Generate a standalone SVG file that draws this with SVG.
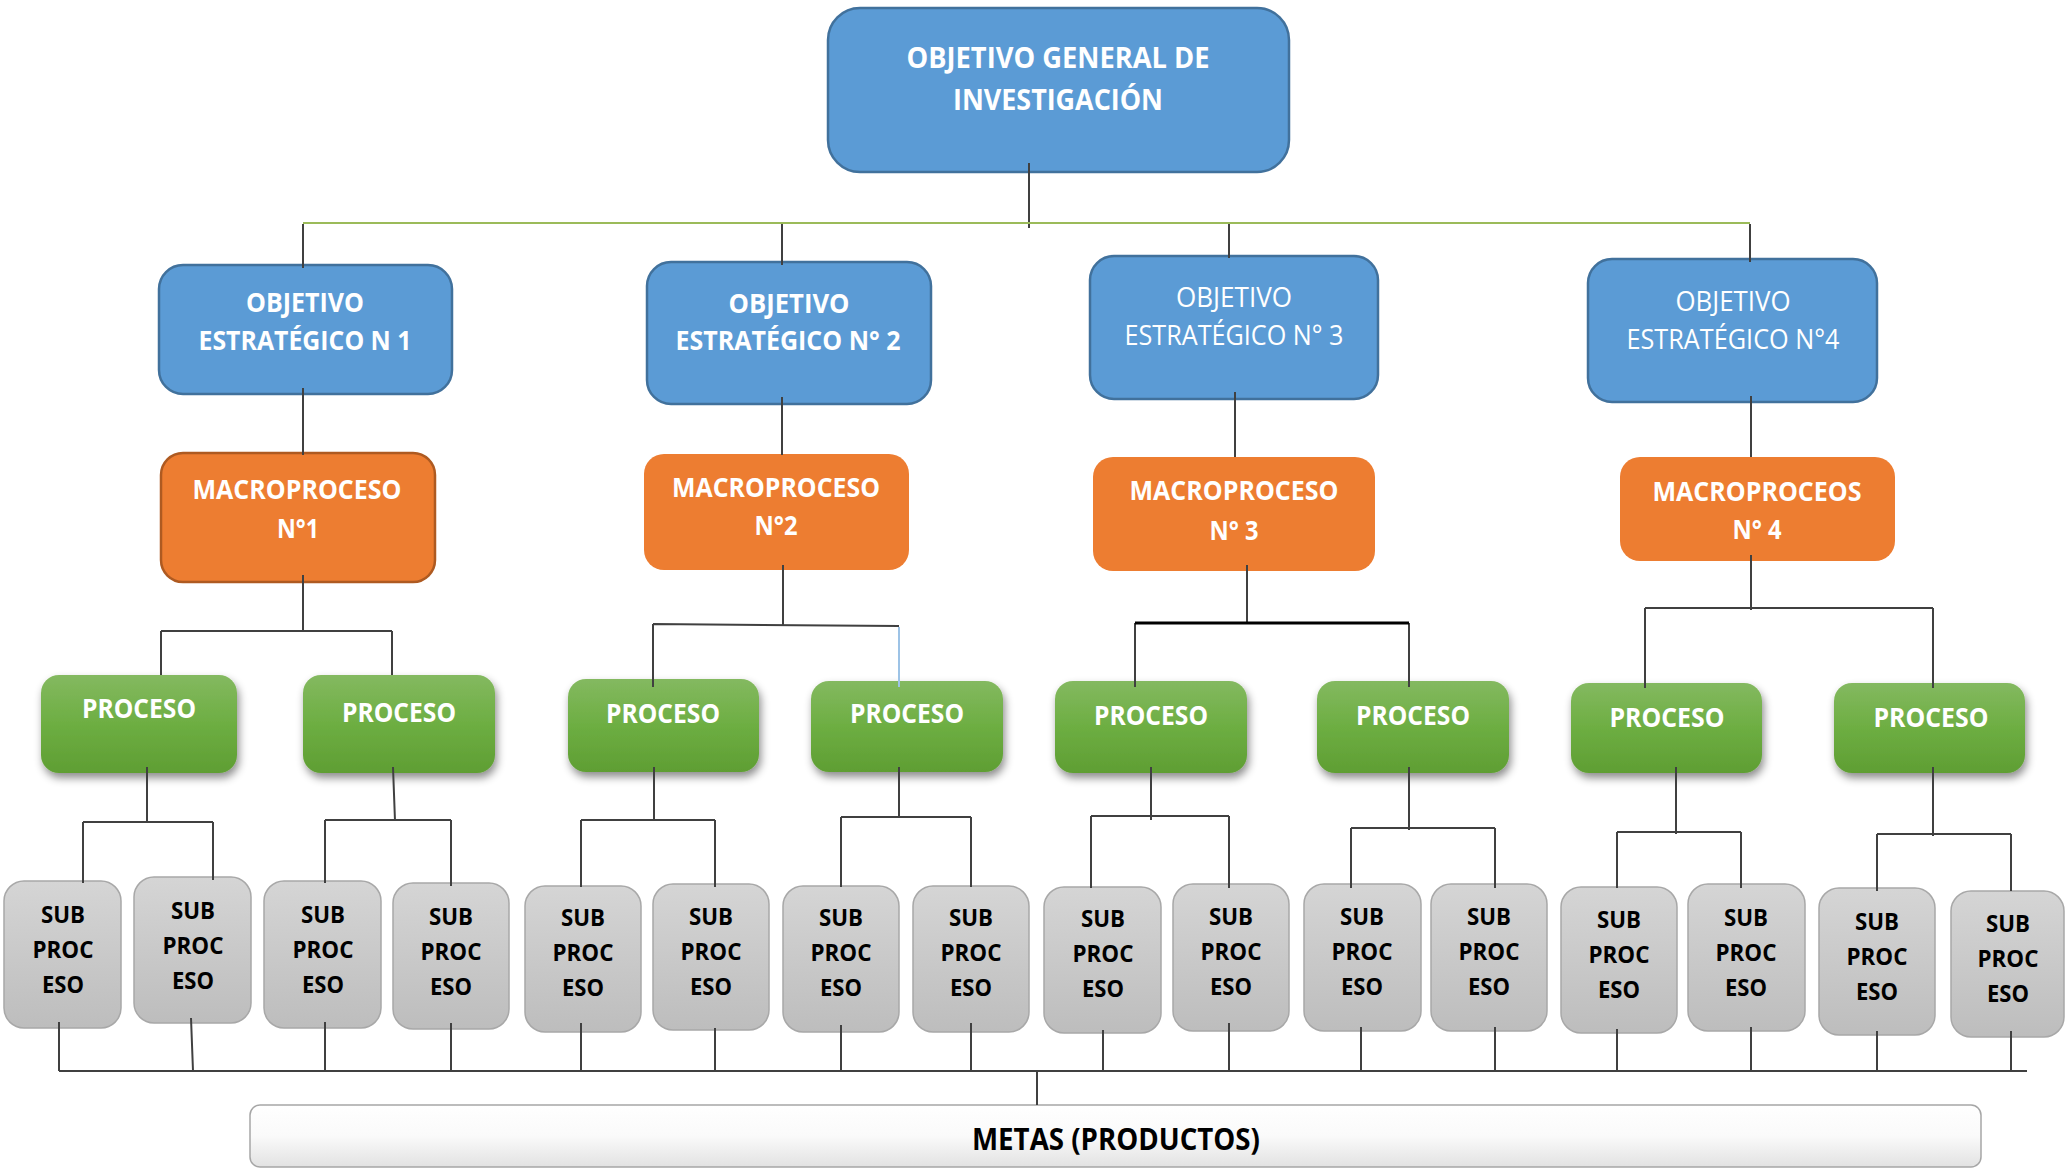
<svg xmlns="http://www.w3.org/2000/svg" width="2065" height="1172" viewBox="0 0 2065 1172">
<defs>
<linearGradient id="gGreen" x1="0" y1="0" x2="0" y2="1">
<stop offset="0" stop-color="#84b960"/><stop offset="0.5" stop-color="#6dae42"/><stop offset="1" stop-color="#5f9e33"/>
</linearGradient>
<linearGradient id="gGray" x1="0" y1="0" x2="0" y2="1">
<stop offset="0" stop-color="#d5d5d5"/><stop offset="1" stop-color="#bdbdbd"/>
</linearGradient>
<linearGradient id="gWhite" x1="0" y1="0" x2="0" y2="1">
<stop offset="0" stop-color="#ffffff"/><stop offset="0.5" stop-color="#fafafa"/><stop offset="1" stop-color="#e2e2e2"/>
</linearGradient>
<filter id="shadow" x="-10%" y="-10%" width="125%" height="140%">
<feDropShadow dx="2" dy="5" stdDeviation="4" flood-color="#000" flood-opacity="0.45"/>
</filter>
</defs>
<style>
.blue{fill:#5b9bd5;stroke:#41719c;stroke-width:2.5}
.orange{fill:#ed7d31}
.orangeb{fill:#ed7d31;stroke:#ae5a21;stroke-width:2.5}
.green{fill:url(#gGreen);filter:url(#shadow)}
.gray{fill:url(#gGray);stroke:#a8a8a8;stroke-width:1.5}
.metas{fill:url(#gWhite);stroke:#a6a6a6;stroke-width:1.5}
text{font-family:"Open Sans","Liberation Sans",sans-serif;text-anchor:middle}
.tw{fill:#ffffff;font-weight:bold;font-size:27px}
.twr{fill:#ffffff;font-weight:normal;font-size:27px}
.top{fill:#ffffff;font-weight:bold;font-size:29px}
.tb{fill:#000000;font-weight:bold;font-size:24px}
.tm{fill:#000000;font-weight:bold;font-size:30px}
.c{fill:none;stroke:#404040;stroke-width:2}
.cg{fill:none;stroke:#9bbb59;stroke-width:2}
.cb{fill:none;stroke:#9dc3e6;stroke-width:2}
.ck{fill:none;stroke:#000000;stroke-width:3}
</style>

<g id="node-general">
<rect class="blue" x="828" y="8" width="461" height="164" rx="32"/>
<text class="top" x="1058" y="68" textLength="303" lengthAdjust="spacingAndGlyphs">OBJETIVO GENERAL DE</text>
<text class="top" x="1058" y="110" textLength="210" lengthAdjust="spacingAndGlyphs">INVESTIGACIÓN</text>
</g>

<g id="node-obj1">
<rect class="blue" x="159" y="265" width="293" height="129" rx="24"/>
<text class="tw" x="305" y="312" textLength="118" lengthAdjust="spacingAndGlyphs">OBJETIVO</text>
<text class="tw" x="305" y="350" textLength="213" lengthAdjust="spacingAndGlyphs">ESTRATÉGICO N 1</text>
</g>
<g id="node-obj2">
<rect class="blue" x="647" y="262" width="284" height="142" rx="24"/>
<text class="tw" x="789" y="313" textLength="121" lengthAdjust="spacingAndGlyphs">OBJETIVO</text>
<text class="tw" x="788" y="350" textLength="225" lengthAdjust="spacingAndGlyphs">ESTRATÉGICO N° 2</text>
</g>
<g id="node-obj3">
<rect class="blue" x="1090" y="256" width="288" height="143" rx="24"/>
<text class="twr" x="1234" y="307" textLength="116" lengthAdjust="spacingAndGlyphs">OBJETIVO</text>
<text class="twr" x="1234" y="345" textLength="219" lengthAdjust="spacingAndGlyphs">ESTRATÉGICO N° 3</text>
</g>
<g id="node-obj4">
<rect class="blue" x="1588" y="259" width="289" height="143" rx="24"/>
<text class="twr" x="1733" y="311" textLength="115" lengthAdjust="spacingAndGlyphs">OBJETIVO</text>
<text class="twr" x="1733" y="349" textLength="213" lengthAdjust="spacingAndGlyphs">ESTRATÉGICO N°4</text>
</g>

<g id="node-macro1">
<rect class="orangeb" x="161" y="453" width="274" height="129" rx="22"/>
<text class="tw" x="297" y="499" textLength="209" lengthAdjust="spacingAndGlyphs">MACROPROCESO</text>
<text class="tw" x="298" y="538" textLength="42" lengthAdjust="spacingAndGlyphs">N°1</text>
</g>
<g id="node-macro2">
<rect class="orange" x="644" y="454" width="265" height="116" rx="20"/>
<text class="tw" x="776" y="497" textLength="208" lengthAdjust="spacingAndGlyphs">MACROPROCESO</text>
<text class="tw" x="776" y="535" textLength="43" lengthAdjust="spacingAndGlyphs">N°2</text>
</g>
<g id="node-macro3">
<rect class="orange" x="1093" y="457" width="282" height="114" rx="20"/>
<text class="tw" x="1234" y="500" textLength="209" lengthAdjust="spacingAndGlyphs">MACROPROCESO</text>
<text class="tw" x="1234" y="540" textLength="49" lengthAdjust="spacingAndGlyphs">N° 3</text>
</g>
<g id="node-macro4">
<rect class="orange" x="1620" y="457" width="275" height="104" rx="20"/>
<text class="tw" x="1757" y="501" textLength="209" lengthAdjust="spacingAndGlyphs">MACROPROCEOS</text>
<text class="tw" x="1757" y="539" textLength="49" lengthAdjust="spacingAndGlyphs">N° 4</text>
</g>

<g id="node-proc1a"><rect class="green" x="41" y="675" width="196" height="98" rx="18"/><text class="tw" x="139" y="718" textLength="114" lengthAdjust="spacingAndGlyphs">PROCESO</text></g>
<g id="node-proc1b"><rect class="green" x="303" y="675" width="192" height="98" rx="18"/><text class="tw" x="399" y="722" textLength="114" lengthAdjust="spacingAndGlyphs">PROCESO</text></g>
<g id="node-proc2a"><rect class="green" x="568" y="679" width="191" height="93" rx="18"/><text class="tw" x="663" y="723" textLength="114" lengthAdjust="spacingAndGlyphs">PROCESO</text></g>
<g id="node-proc2b"><rect class="green" x="811" y="681" width="192" height="91" rx="18"/><text class="tw" x="907" y="723" textLength="114" lengthAdjust="spacingAndGlyphs">PROCESO</text></g>
<g id="node-proc3a"><rect class="green" x="1055" y="681" width="192" height="92" rx="18"/><text class="tw" x="1151" y="725" textLength="114" lengthAdjust="spacingAndGlyphs">PROCESO</text></g>
<g id="node-proc3b"><rect class="green" x="1317" y="681" width="192" height="92" rx="18"/><text class="tw" x="1413" y="725" textLength="114" lengthAdjust="spacingAndGlyphs">PROCESO</text></g>
<g id="node-proc4a"><rect class="green" x="1571" y="683" width="191" height="90" rx="18"/><text class="tw" x="1667" y="727" textLength="115" lengthAdjust="spacingAndGlyphs">PROCESO</text></g>
<g id="node-proc4b"><rect class="green" x="1834" y="683" width="191" height="90" rx="18"/><text class="tw" x="1931" y="727" textLength="115" lengthAdjust="spacingAndGlyphs">PROCESO</text></g>

<g id="node-sub1"><rect class="gray" x="4" y="881" width="117" height="147" rx="20"/><text class="tb" x="63" y="923" textLength="44" lengthAdjust="spacingAndGlyphs">SUB</text><text class="tb" x="63" y="958" textLength="61" lengthAdjust="spacingAndGlyphs">PROC</text><text class="tb" x="63" y="993" textLength="42" lengthAdjust="spacingAndGlyphs">ESO</text></g>
<g id="node-sub2"><rect class="gray" x="134" y="877" width="117" height="146" rx="20"/><text class="tb" x="193" y="919" textLength="44" lengthAdjust="spacingAndGlyphs">SUB</text><text class="tb" x="193" y="954" textLength="61" lengthAdjust="spacingAndGlyphs">PROC</text><text class="tb" x="193" y="989" textLength="42" lengthAdjust="spacingAndGlyphs">ESO</text></g>
<g id="node-sub3"><rect class="gray" x="264" y="881" width="117" height="147" rx="20"/><text class="tb" x="323" y="923" textLength="44" lengthAdjust="spacingAndGlyphs">SUB</text><text class="tb" x="323" y="958" textLength="61" lengthAdjust="spacingAndGlyphs">PROC</text><text class="tb" x="323" y="993" textLength="42" lengthAdjust="spacingAndGlyphs">ESO</text></g>
<g id="node-sub4"><rect class="gray" x="393" y="883" width="116" height="146" rx="20"/><text class="tb" x="451" y="925" textLength="44" lengthAdjust="spacingAndGlyphs">SUB</text><text class="tb" x="451" y="960" textLength="61" lengthAdjust="spacingAndGlyphs">PROC</text><text class="tb" x="451" y="995" textLength="42" lengthAdjust="spacingAndGlyphs">ESO</text></g>
<g id="node-sub5"><rect class="gray" x="525" y="886" width="116" height="146" rx="20"/><text class="tb" x="583" y="926" textLength="44" lengthAdjust="spacingAndGlyphs">SUB</text><text class="tb" x="583" y="961" textLength="61" lengthAdjust="spacingAndGlyphs">PROC</text><text class="tb" x="583" y="996" textLength="42" lengthAdjust="spacingAndGlyphs">ESO</text></g>
<g id="node-sub6"><rect class="gray" x="653" y="884" width="116" height="146" rx="20"/><text class="tb" x="711" y="925" textLength="44" lengthAdjust="spacingAndGlyphs">SUB</text><text class="tb" x="711" y="960" textLength="61" lengthAdjust="spacingAndGlyphs">PROC</text><text class="tb" x="711" y="995" textLength="42" lengthAdjust="spacingAndGlyphs">ESO</text></g>
<g id="node-sub7"><rect class="gray" x="783" y="886" width="116" height="146" rx="20"/><text class="tb" x="841" y="926" textLength="44" lengthAdjust="spacingAndGlyphs">SUB</text><text class="tb" x="841" y="961" textLength="61" lengthAdjust="spacingAndGlyphs">PROC</text><text class="tb" x="841" y="996" textLength="42" lengthAdjust="spacingAndGlyphs">ESO</text></g>
<g id="node-sub8"><rect class="gray" x="913" y="886" width="116" height="146" rx="20"/><text class="tb" x="971" y="926" textLength="44" lengthAdjust="spacingAndGlyphs">SUB</text><text class="tb" x="971" y="961" textLength="61" lengthAdjust="spacingAndGlyphs">PROC</text><text class="tb" x="971" y="996" textLength="42" lengthAdjust="spacingAndGlyphs">ESO</text></g>
<g id="node-sub9"><rect class="gray" x="1044" y="887" width="117" height="146" rx="20"/><text class="tb" x="1103" y="927" textLength="44" lengthAdjust="spacingAndGlyphs">SUB</text><text class="tb" x="1103" y="962" textLength="61" lengthAdjust="spacingAndGlyphs">PROC</text><text class="tb" x="1103" y="997" textLength="42" lengthAdjust="spacingAndGlyphs">ESO</text></g>
<g id="node-sub10"><rect class="gray" x="1173" y="884" width="116" height="147" rx="20"/><text class="tb" x="1231" y="925" textLength="44" lengthAdjust="spacingAndGlyphs">SUB</text><text class="tb" x="1231" y="960" textLength="61" lengthAdjust="spacingAndGlyphs">PROC</text><text class="tb" x="1231" y="995" textLength="42" lengthAdjust="spacingAndGlyphs">ESO</text></g>
<g id="node-sub11"><rect class="gray" x="1304" y="884" width="117" height="147" rx="20"/><text class="tb" x="1362" y="925" textLength="44" lengthAdjust="spacingAndGlyphs">SUB</text><text class="tb" x="1362" y="960" textLength="61" lengthAdjust="spacingAndGlyphs">PROC</text><text class="tb" x="1362" y="995" textLength="42" lengthAdjust="spacingAndGlyphs">ESO</text></g>
<g id="node-sub12"><rect class="gray" x="1431" y="884" width="116" height="147" rx="20"/><text class="tb" x="1489" y="925" textLength="44" lengthAdjust="spacingAndGlyphs">SUB</text><text class="tb" x="1489" y="960" textLength="61" lengthAdjust="spacingAndGlyphs">PROC</text><text class="tb" x="1489" y="995" textLength="42" lengthAdjust="spacingAndGlyphs">ESO</text></g>
<g id="node-sub13"><rect class="gray" x="1561" y="887" width="116" height="146" rx="20"/><text class="tb" x="1619" y="928" textLength="44" lengthAdjust="spacingAndGlyphs">SUB</text><text class="tb" x="1619" y="963" textLength="61" lengthAdjust="spacingAndGlyphs">PROC</text><text class="tb" x="1619" y="998" textLength="42" lengthAdjust="spacingAndGlyphs">ESO</text></g>
<g id="node-sub14"><rect class="gray" x="1688" y="884" width="117" height="147" rx="20"/><text class="tb" x="1746" y="926" textLength="44" lengthAdjust="spacingAndGlyphs">SUB</text><text class="tb" x="1746" y="961" textLength="61" lengthAdjust="spacingAndGlyphs">PROC</text><text class="tb" x="1746" y="996" textLength="42" lengthAdjust="spacingAndGlyphs">ESO</text></g>
<g id="node-sub15"><rect class="gray" x="1819" y="888" width="116" height="147" rx="20"/><text class="tb" x="1877" y="930" textLength="44" lengthAdjust="spacingAndGlyphs">SUB</text><text class="tb" x="1877" y="965" textLength="61" lengthAdjust="spacingAndGlyphs">PROC</text><text class="tb" x="1877" y="1000" textLength="42" lengthAdjust="spacingAndGlyphs">ESO</text></g>
<g id="node-sub16"><rect class="gray" x="1951" y="891" width="113" height="146" rx="20"/><text class="tb" x="2008" y="932" textLength="44" lengthAdjust="spacingAndGlyphs">SUB</text><text class="tb" x="2008" y="967" textLength="61" lengthAdjust="spacingAndGlyphs">PROC</text><text class="tb" x="2008" y="1002" textLength="42" lengthAdjust="spacingAndGlyphs">ESO</text></g>

<g id="node-metas">
<rect class="metas" x="250" y="1105" width="1731" height="62" rx="10"/>
<text class="tm" x="1116" y="1150" textLength="288" lengthAdjust="spacingAndGlyphs">METAS (PRODUCTOS)</text>
</g>

<g id="connectors">
<path class="c" d="M1029 163V228"/>
<path class="cg" d="M303 223H1750"/>
<path class="c" d="M303 224V268M782 224V265M1229 224V258M1750 224V262"/>
<path class="c" d="M303 388V455M782 397V455M1235 392V457M1751 396V457"/>
<path class="c" d="M303 575V631M161 631H392M161 631V675M392 631V675"/>
<path class="c" d="M783 565V625M653 624L899 626M653 624V687"/>
<path class="cb" d="M899 627V687"/>
<path class="c" d="M1247 565V623M1135 623V687M1409 623V687"/>
<path class="ck" d="M1135 623H1409"/>
<path class="c" d="M1751 555V610M1645 608H1933M1645 608V688M1933 608V688"/>
<path class="c" d="M147 767V822M83 822H213M83 822V883M213 822V880"/>
<path class="c" d="M393 767L395 821M325 820H451M325 820V883M451 820V886"/>
<path class="c" d="M654 767V820M581 820H715M581 820V887M715 820V887"/>
<path class="c" d="M899 767V818M841 817H971M841 817V887M971 817V887"/>
<path class="c" d="M1151 767V820M1091 816H1229M1091 816V888M1229 816V888"/>
<path class="c" d="M1409 767V830M1351 828H1495M1351 828V888M1495 828V888"/>
<path class="c" d="M1676 767V834M1617 832H1741M1617 832V888M1741 832V888"/>
<path class="c" d="M1933 767V836M1877 834H2011M1877 834V891M2011 834V891"/>
<path class="c" d="M59 1022V1071M191 1018L193 1071M325 1022V1071M451 1023V1071M581 1023V1071M715 1028V1071M841 1025V1071M971 1023V1071M1103 1030V1071M1229 1023V1071M1361 1027V1071M1495 1027V1071M1617 1029V1071M1751 1027V1071M1877 1031V1071M2011 1031V1071"/>
<path class="c" d="M59 1071H2027"/>
<path class="c" d="M1037 1071V1105"/>
</g>
</svg>
